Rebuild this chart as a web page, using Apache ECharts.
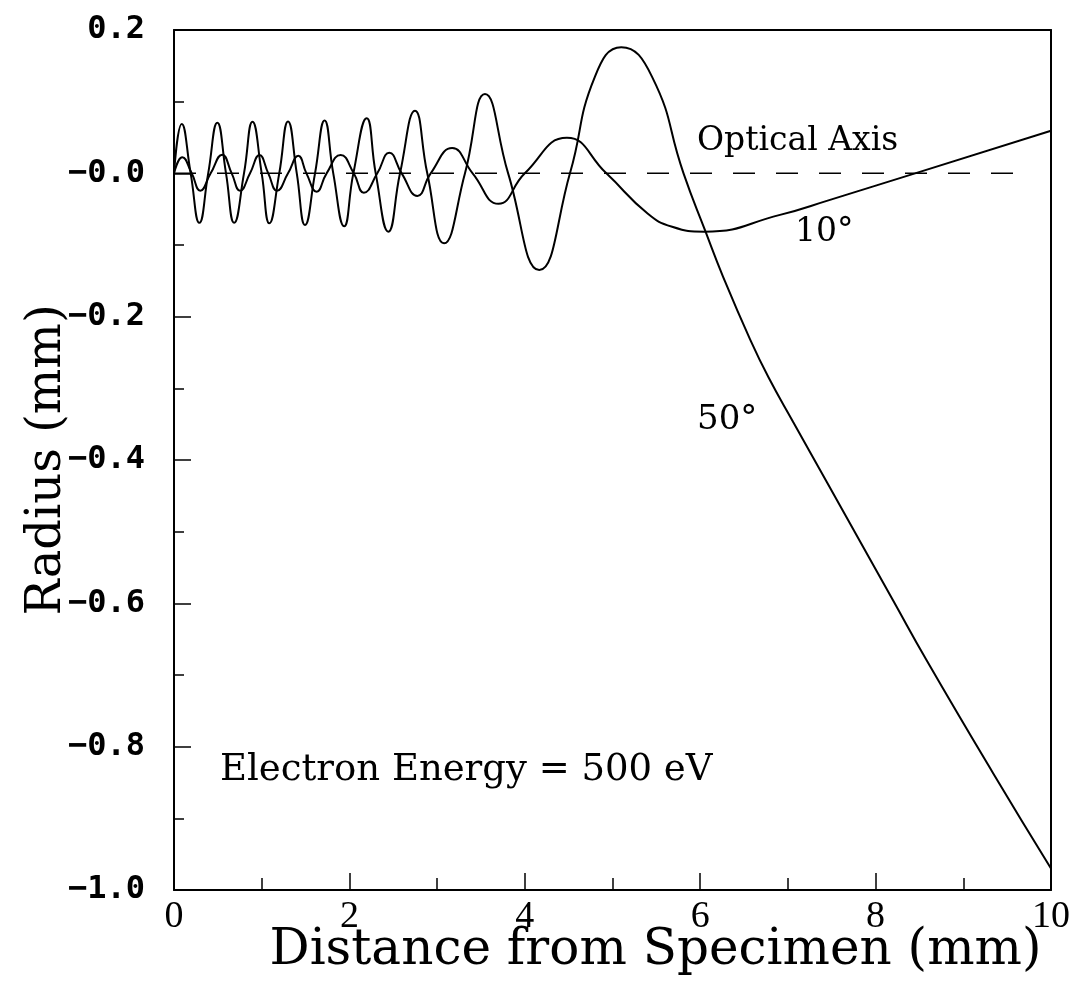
<!DOCTYPE html>
<html>
<head>
<meta charset="utf-8">
<script src="https://cdn.jsdelivr.net/npm/echarts@6/dist/echarts.min.js"></script>
<style>
  html, body { margin: 0; padding: 0; background: #fff; }
  #myChart { width: 1074px; height: 990px; }
</style>
</head>
<body>
<div id="myChart"></div>
<script>
// 50 degree trajectory (x mm, radius mm)
const ray50 = [
  [0, 0], [0.088, 0.069], [0.19, 0], [0.289, -0.069], [0.39, 0], [0.494, 0.0706],
  [0.593, 0], [0.686, -0.069], [0.798, 0], [0.895, 0.072], [1.0, 0], [1.087, -0.0698],
  [1.2, 0], [1.30, 0.0725], [1.40, 0], [1.494, -0.072], [1.608, 0], [1.717, 0.0738],
  [1.816, 0], [1.94, -0.0738], [2.045, 0], [2.197, 0.0767], [2.30, 0], [2.444, -0.0814],
  [2.577, 0], [2.748, 0.0873], [2.888, 0], [3.079, -0.0977], [3.318, 0], [3.546, 0.1106],
  [3.81, 0], [4.165, -0.135], [4.515, 0], [4.80, 0.135], [5.10, 0.176],
  [5.45, 0.135], [5.81, 0], [6.06, -0.081], [6.26, -0.144], [6.57, -0.232],
  [6.78, -0.285], [7.06, -0.347], [7.45, -0.432], [7.82, -0.513], [8.2, -0.596],
  [8.58, -0.679], [9.34, -0.837], [10, -0.97]
]
// 10 degree trajectory
const ray10 = [
  [0, 0], [0.095, 0.0225], [0.202, 0], [0.30, -0.0243], [0.418, 0], [0.55, 0.026],
  [0.658, 0], [0.753, -0.0243], [0.867, 0], [0.975, 0.0255], [1.075, 0], [1.175, -0.0243],
  [1.30, 0], [1.417, 0.0245], [1.51, 0], [1.627, -0.0256], [1.74, 0], [1.90, 0.0255],
  [2.05, 0], [2.165, -0.027], [2.318, 0], [2.455, 0.0288], [2.596, 0], [2.775, -0.0315],
  [2.927, 0], [3.172, 0.0352], [3.405, 0], [3.70, -0.0425], [4.0, 0], [4.48, 0.0495],
  [4.93, 0], [5.40, -0.056], [5.68, -0.0745], [6.05, -0.0814], [6.91, -0.058],
  [7.48, -0.037], [8.45, 0], [10, 0.0594]
]
// optical axis (dashed)
const opticalAxis = [[0, 0], [9.76, 0]]

const xTicks = [0, 2, 4, 6, 8, 10]
const yTicks = [0.2, 0, -0.2, -0.4, -0.6, -0.8, -1.0]

const serif = 'DejaVu Serif'
let myChart = echarts.init(document.getElementById('myChart'))

function yLabel (v) {
  const r = Math.round(v * 10) / 10
  if (r === 0) return '\u22120.0'
  return r < 0 ? '\u2212' + Math.abs(r).toFixed(1) : r.toFixed(1)
}

const curveStyle = { color: '#000', width: 2 }

myChart.setOption({
  backgroundColor: '#fff',
  animation: false,
  grid: { left: 174, right: 23, top: 30, bottom: 100, outerBoundsMode: 'none', containLabel: false },
  xAxis: [
    {
      type: 'value',
      min: xTicks[0],
      max: xTicks[xTicks.length - 1],
      interval: 2,
      name: 'Distance from Specimen (mm)',
      nameLocation: 'middle',
      nameGap: 36,
      nameMoveOverlap: false,
      nameTextStyle: { fontFamily: serif, fontSize: 50, color: '#000', padding: [0, 0, 0, 86] },
      axisLine: { show: true, onZero: false, lineStyle: { color: '#000', width: 2 } },
      axisTick: { show: true, inside: true, length: 17, lineStyle: { color: '#000', width: 1.5 } },
      minorTick: { show: true, splitNumber: 2, length: 12, lineStyle: { color: '#000', width: 1.5 } },
      axisLabel: { fontFamily: 'Liberation Serif', fontSize: 38, color: '#000', margin: 8 },
      splitLine: { show: false }
    },
    {
      type: 'value', position: 'top', min: 0, max: 10,
      axisLine: { show: true, onZero: false, lineStyle: { color: '#000', width: 2 } },
      axisTick: { show: false }, axisLabel: { show: false }, splitLine: { show: false }
    }
  ],
  yAxis: [
    {
      type: 'value',
      min: yTicks[yTicks.length - 1],
      max: yTicks[0],
      interval: 0.2,
      name: 'Radius (mm)',
      nameLocation: 'middle',
      nameGap: 102,
      nameMoveOverlap: false,
      nameTextStyle: { fontFamily: serif, fontSize: 48, color: '#000' },
      axisLine: { show: true, onZero: false, lineStyle: { color: '#000', width: 2 } },
      axisTick: { show: true, inside: true, length: 17, lineStyle: { color: '#000', width: 1.5 } },
      minorTick: { show: true, splitNumber: 2, length: 10, lineStyle: { color: '#000', width: 1.5 } },
      axisLabel: {
        fontFamily: 'DejaVu Sans Mono', fontWeight: 'bold', fontSize: 32, color: '#000', margin: 29,
        formatter: yLabel
      },
      splitLine: { show: false }
    },
    {
      type: 'value', position: 'right', min: -1.0, max: 0.2,
      axisLine: { show: true, onZero: false, lineStyle: { color: '#000', width: 2 } },
      axisTick: { show: false }, axisLabel: { show: false }, splitLine: { show: false }
    }
  ],
  series: [
    {
      name: '50°',
      type: 'line',
      data: ray50,
      smooth: 0.5,
      showSymbol: false,
      lineStyle: curveStyle
    },
    {
      name: '10°',
      type: 'line',
      data: ray10,
      smooth: 0.5,
      showSymbol: false,
      lineStyle: curveStyle
    },
    {
      name: 'Optical Axis',
      type: 'line',
      data: opticalAxis,
      showSymbol: false,
      lineStyle: { color: '#000', width: 1.5, type: [22, 21] }
    }
  ],
  graphic: [
    { type: 'text', left: 697, top: 125, style: { text: 'Optical Axis', font: '33px "DejaVu Serif"', fill: '#000' } },
    { type: 'text', left: 795, top: 216, style: { text: '10°', font: '33px "DejaVu Serif"', fill: '#000' } },
    { type: 'text', left: 697, top: 403, style: { text: '50°', font: '34px "DejaVu Serif"', fill: '#000' } },
    { type: 'text', left: 220, top: 752, style: { text: 'Electron Energy = 500 eV', font: '37px "DejaVu Serif"', fill: '#000' } }
  ]
})
</script>
</body>
</html>
